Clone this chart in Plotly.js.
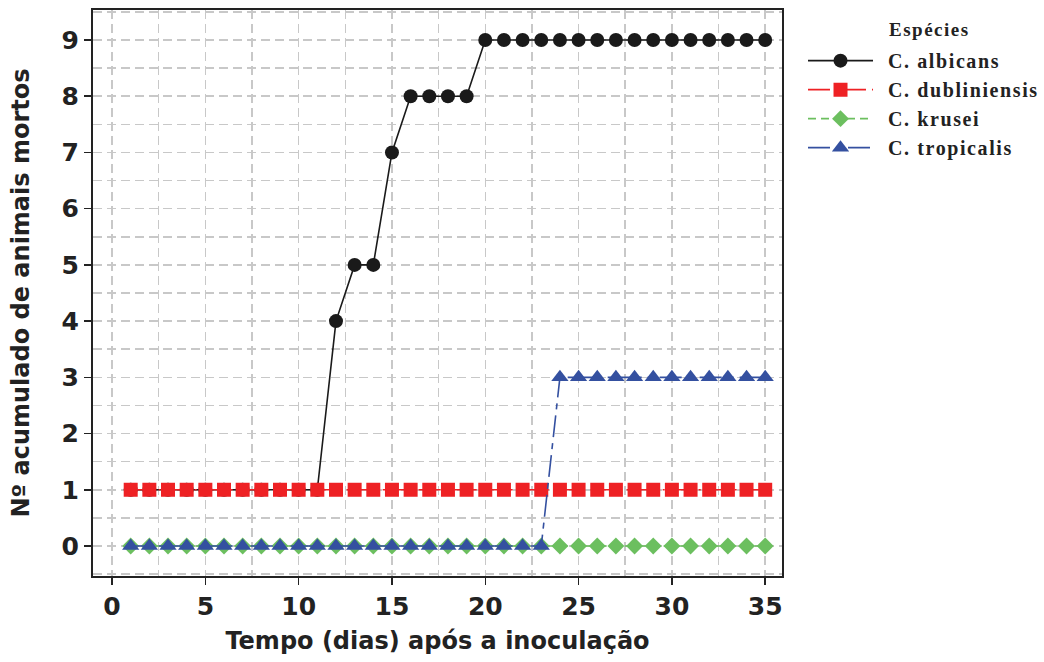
<!DOCTYPE html>
<html>
<head>
<meta charset="utf-8">
<script src="https://cdn.plot.ly/plotly-3.0.1.min.js"></script>
<style>body{margin:0;background:#fff}#chart{width:1044px;height:662px}</style>
</head>
<body>
<div id="chart"></div>
<script>
const days = Array.from({length: 35}, (_, i) => i + 1);
const albicans = [1,1,1,1,1,1,1,1,1,1,1,4,5,5,7,8,8,8,8,9,9,9,9,9,9,9,9,9,9,9,9,9,9,9,9];
const dubliniensis = [1,1,1,1,1,1,1,1,1,1,1,1,1,1,1,1,1,1,1,1,1,1,1,1,1,1,1,1,1,1,1,1,1,1,1];
const krusei = [0,0,0,0,0,0,0,0,0,0,0,0,0,0,0,0,0,0,0,0,0,0,0,0,0,0,0,0,0,0,0,0,0,0,0];
const tropicalis = [0,0,0,0,0,0,0,0,0,0,0,0,0,0,0,0,0,0,0,0,0,0,0,3,3,3,3,3,3,3,3,3,3,3,3];
const seriesNames = ['C. albicans', 'C. dubliniensis', 'C. krusei', 'C. tropicalis'];
const legendTitle = 'Espécies';
const xTitle = 'Tempo (dias) após a inoculação';
const yTitle = 'Nº acumulado de animais mortos';

const spaced = (s, px) => '  <span style="letter-spacing:' + px + 'px">' + s + '</span>';

const styles = [
  {line: {color: '#1a1a1a', width: 1.6, dash: 'solid'}, marker: {symbol: 'circle', size: 14, color: '#1a1a1a'}},
  {line: {color: '#ee2124', width: 1.6, dash: '22px,6px,2px,6px'}, marker: {symbol: 'square', size: 14, color: '#ee2124'}},
  {line: {color: '#6cbf5f', width: 1.6, dash: '8px,5px'}, marker: {symbol: 'diamond', size: 13, color: '#6cbf5f'}},
  {line: {color: '#3450a0', width: 1.6, dash: '22px,6px,6px,6px'}, marker: {symbol: 'triangle-up', size: 15, color: '#3450a0'}}
];
const values = [albicans, dubliniensis, krusei, tropicalis];
const traces = values.map((v, i) => Object.assign({
  x: days, y: v, name: spaced(seriesNames[i], 1.6), mode: 'lines+markers'
}, styles[i]));

const tickFont = {family: 'DejaVu Sans, sans-serif', size: 25, color: '#222', weight: 'bold'};
const titleFont = {family: 'DejaVu Sans, sans-serif', size: 24, color: '#222', weight: 'bold'};
const serif = 'Liberation Serif, Times New Roman, serif';
const gridCommon = {gridcolor: '#c8c8c8', griddash: '9px,5px', gridwidth: 1.5};

const layout = {
  width: 1044, height: 662,
  margin: {l: 93, r: 262, t: 10, b: 86, autoexpand: false},
  paper_bgcolor: '#fff', plot_bgcolor: '#fff',
  showlegend: true,
  xaxis: Object.assign({
    range: [-1.02, 35.9], dtick: 5, tick0: 0,
    showgrid: true, zeroline: false,
    showline: true, linecolor: '#222', linewidth: 2, mirror: true,
    ticks: 'outside', ticklen: 7, tickwidth: 1.5, tickcolor: '#222',
    tickfont: tickFont,
    minor: Object.assign({dtick: 2.5, showgrid: true, ticks: ''}, gridCommon),
    title: {text: xTitle, font: titleFont, standoff: 12}
  }, gridCommon),
  yaxis: Object.assign({
    range: [-0.534, 9.534], dtick: 1, tick0: 0,
    showgrid: true, zeroline: false,
    showline: true, linecolor: '#222', linewidth: 2, mirror: true,
    ticks: 'outside', ticklen: 7, tickwidth: 1.5, tickcolor: '#222',
    tickfont: tickFont,
    minor: Object.assign({dtick: 0.5, showgrid: true, ticks: ''}, gridCommon),
    title: {text: yTitle, font: titleFont, standoff: 25}
  }, gridCommon),
  legend: {
    x: 1.0305, xanchor: 'left', y: 0.945, yanchor: 'top',
    font: {family: serif, size: 20, color: '#222', weight: 'bold'},
    itemwidth: 65, bgcolor: 'rgba(0,0,0,0)'
  },
  annotations: [{
    xref: 'paper', yref: 'paper', x: 1.1524, y: 0.9647, xanchor: 'left', yanchor: 'middle',
    text: '<span style="letter-spacing:1.5px">' + legendTitle + '</span>', showarrow: false,
    font: {family: serif, size: 19, color: '#222', weight: 'bold'}
  }]
};

Plotly.newPlot('chart', traces, layout, {displayModeBar: false, staticPlot: true});
</script>
</body>
</html>
